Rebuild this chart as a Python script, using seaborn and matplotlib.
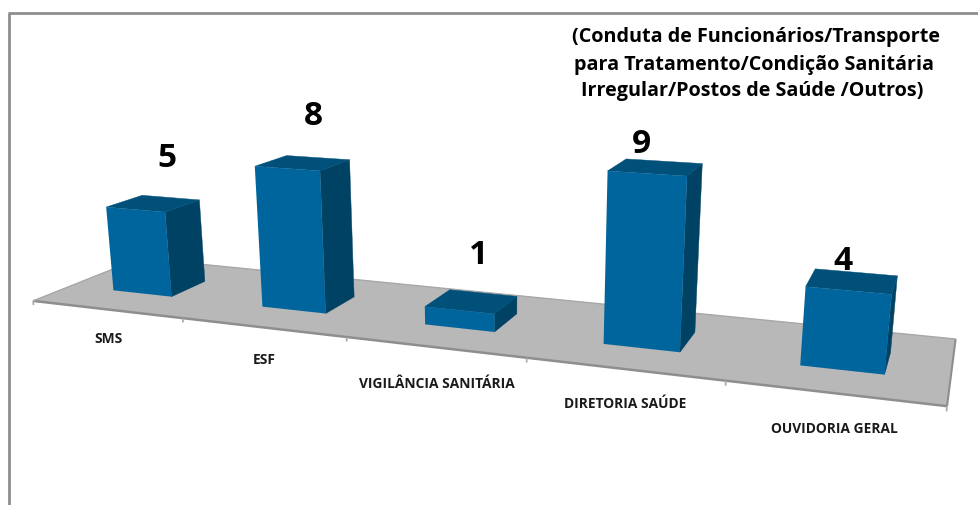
import numpy as np
import pandas as pd
import matplotlib
matplotlib.use('Agg')
import matplotlib.pyplot as plt
from matplotlib.patches import Polygon
from matplotlib.transforms import Affine2D, Transform
import seaborn as sns

# ---- data ----
categories = ['SMS', 'ESF', 'VIGILÂNCIA SANITÁRIA', 'DIRETORIA SAÚDE', 'OUVIDORIA GERAL']
values = [5, 8, 1, 9, 4]
title_lines = ['(Conduta de Funcionários/Transporte',
               'para Tratamento/Condição Sanitária',
               'Irregular/Postos de Saúde /Outros)']

# ---- style ----
FRONT, TOP, SIDE = '#00659D', '#00507A', '#004263'
FLOOR, EDGE, EDGE_LIGHT = '#B8B8B8', '#8E8E8E', '#A8A8A8'
FONT = ['Open Sans', 'DejaVu Sans']

# camera of the 3-D scene: (category, depth, value) -> image pixels
CAMERA = np.array([[144.8136, 127.0257, -1.94516, 106.2255],
                   [3.49819, -11.11497, -18.29106, 309.3133],
                   [-0.044383, 0.125727, -0.0038715, 1.0]])
DEPTH_FRONT, DEPTH_BACK = 0.33, 0.67
BAR_WIDTH = 0.4
W, H = 979, 505


def project(x, depth, z):
    q = CAMERA @ np.array([x, depth, z, 1.0])
    return q[0] / q[2], q[1] / q[2]


class FrontPlane(Transform):
    """Perspective view of the plane holding the front faces of the bars."""
    input_dims = output_dims = 2
    is_separable = False
    has_inverse = False

    def transform_non_affine(self, pts):
        return np.array([project(x, DEPTH_FRONT, z) for x, z in np.asarray(pts)])


sns.set_theme(style='white')
plt.rcParams['font.family'] = FONT

fig = plt.figure(figsize=(W / 100, H / 100), dpi=100, facecolor='white')
ax = fig.add_axes([0, 0, 1, 1])
df = pd.DataFrame({'categoria': categories, 'valor': values})
sns.barplot(data=df, x='categoria', y='valor', color=FRONT, saturation=1,
            width=BAR_WIDTH, ax=ax, linewidth=0)
ax.set_axis_off()

pix = Affine2D().scale(1, -1).translate(0, H)     # image pixels -> display


def face(points, color, z):
    ax.add_patch(Polygon(points, closed=True, facecolor=color, edgecolor=color,
                         linewidth=0.3, transform=pix, zorder=z, clip_on=False))


def seg(p, q, color, lw, z=1.5):
    ax.plot([p[0], q[0]], [p[1], q[1]], color=color, lw=lw, transform=pix,
            zorder=z, clip_on=False, solid_capstyle='butt')


# chart frame
seg((9, 12.5), (9, H), EDGE, 2.0)
seg((8, 13), (W, 13), EDGE, 2.0)

# floor
x0, x1 = -0.5, len(categories) - 0.5
fl = project(x0, 0, 0), project(x1, 0, 0), project(x1, 1, 0), project(x0, 1, 0)
face(fl, FLOOR, 1)
seg(fl[0], fl[1], EDGE, 1.8)
seg(fl[1], fl[2], EDGE, 1.5)
seg(fl[2], fl[3], EDGE_LIGHT, 1.0)
seg(fl[3], fl[0], EDGE_LIGHT, 1.0)
for t in np.arange(x0, x1 + 0.5):
    seg(project(t, 0, 0), project(t, 0, -0.25), EDGE_LIGHT, 1.2)

# bars: the seaborn rectangles are the front faces, the other faces follow them
plane = FrontPlane() + pix
for bar in ax.containers[0]:
    bar.set_transform(plane)
    bar.set_zorder(4)
    bar.set_clip_on(False)
    a, b = bar.get_x(), bar.get_x() + bar.get_width()
    v = bar.get_height()
    d0, d1 = DEPTH_FRONT, DEPTH_BACK
    face([project(b, d0, 0), project(b, d1, 0), project(b, d1, v), project(b, d0, v)], SIDE, 3)
    face([project(a, d0, v), project(b, d0, v), project(b, d1, v), project(a, d1, v)], TOP, 3)

# labels, offset in pixels from the projected anchors
value_offsets = [(14, -45), (11, -46), (7, -46), (-14, -23), (-9, -20)]
cat_offsets = [(2, 30), (1, 33), (2, 37), (1, 35), (1, 36)]
for i, (c, v) in enumerate(zip(categories, values)):
    px, py = project(i, 0.5, v)
    ax.text(px + value_offsets[i][0], py + value_offsets[i][1], str(v), transform=pix,
            ha='center', va='center', fontsize=24, fontweight='bold', color='black',
            zorder=6, clip_on=False)
    px, py = project(i, 0, 0)
    ax.text(px + cat_offsets[i][0], py + cat_offsets[i][1], c, transform=pix,
            ha='center', va='center', fontsize=9.9, fontweight='bold', color='#1a1a1a',
            zorder=6, clip_on=False)

for line, cx, cy in zip(title_lines, (756.5, 753.5, 752), (37, 65, 91)):
    ax.text(cx, cy, line, transform=pix, ha='center', va='center', fontsize=14.2,
            fontweight='bold', color='black', zorder=6, clip_on=False)

fig.savefig('out.png', dpi=100, facecolor='white')
